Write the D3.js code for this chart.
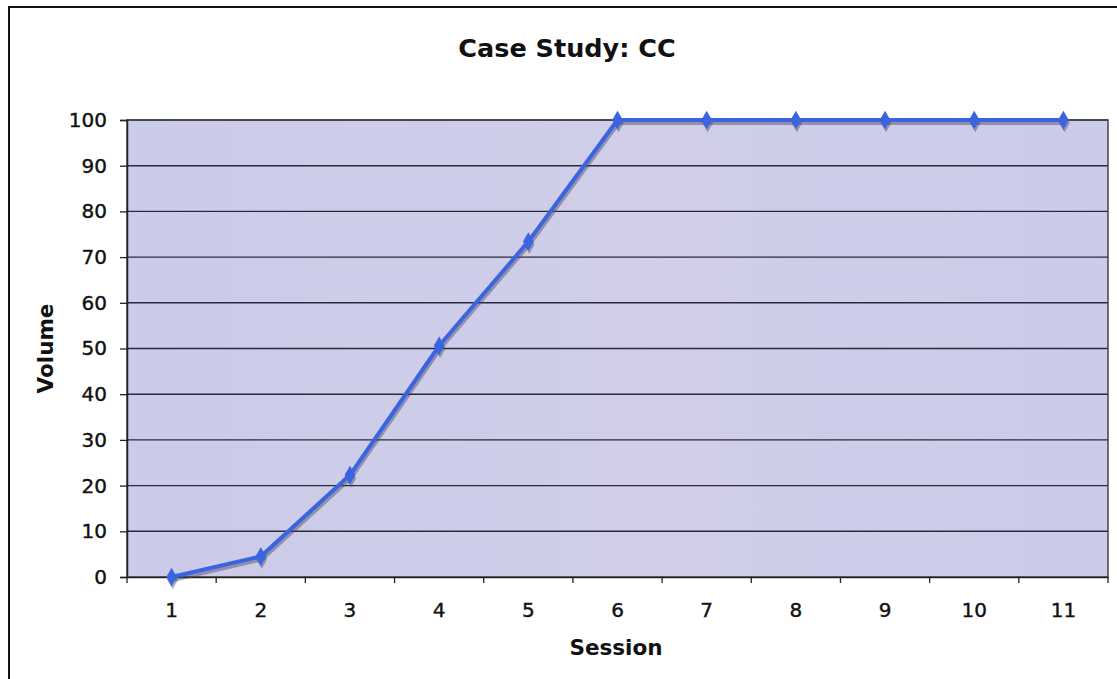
<!DOCTYPE html>
<html>
<head>
<meta charset="utf-8">
<script src="https://cdn.jsdelivr.net/npm/d3@7"></script>
<style>
html,body{margin:0;padding:0;background:#fff;}
svg{display:block;}
</style>
</head>
<body>
<svg id="chart" width="1117" height="679"></svg>
<script>
const sessions = ["1","2","3","4","5","6","7","8","9","10","11"];
const volume = [0, 4.5, 22.3, 50.6, 73.4, 100, 100, 100, 100, 100, 100];
const yTicks = [0,10,20,30,40,50,60,70,80,90,100];
const titleText = "Case Study: CC";
const xTitle = "Session";
const yTitle = "Volume";

const svg = d3.select("#chart");
const W = 1117, H = 679;
const m = {left:127, right:1108, top:120, bottom:577};
const font = "'DejaVu Sans', Verdana, sans-serif";

// outer frame (extends beyond picture on right/bottom)
svg.append("rect").attr("x",9).attr("y",7).attr("width",W+20).attr("height",H+20)
  .attr("fill","#fff").attr("stroke","#111").attr("stroke-width",2);

const x = d3.scaleBand().domain(sessions).range([m.left,m.right]).padding(0);
const y = d3.scaleLinear().domain([0,100]).range([m.bottom,m.top]);

const defs = svg.append("defs");
const grad = defs.append("linearGradient").attr("id","bg").attr("x1","0").attr("x2","1").attr("y1","0").attr("y2","0");
grad.append("stop").attr("offset","0%").attr("stop-color","#cbcbea");
grad.append("stop").attr("offset","55%").attr("stop-color","#d0cee8");
grad.append("stop").attr("offset","100%").attr("stop-color","#cbcbea");

svg.append("rect").attr("x",m.left).attr("y",m.top)
  .attr("width",m.right-m.left).attr("height",m.bottom-m.top)
  .attr("fill","url(#bg)");

// gridlines
svg.append("g").selectAll("line").data(yTicks.filter(d=>d>0)).join("line")
  .attr("x1",m.left).attr("x2",m.right)
  .attr("y1",d=>y(d)).attr("y2",d=>y(d))
  .attr("stroke","#2a2a3a").attr("stroke-width",1.4);

// plot border
svg.append("rect").attr("x",m.left).attr("y",m.top)
  .attr("width",m.right-m.left).attr("height",m.bottom-m.top)
  .attr("fill","none").attr("stroke","#444").attr("stroke-width",1.5);

// y axis
const yAxis = d3.axisLeft(y).tickValues(yTicks).tickSize(7).tickPadding(13);
const gy = svg.append("g").attr("transform",`translate(${m.left},0)`).call(yAxis);
gy.select(".domain").attr("stroke","#222").attr("stroke-width",1.5);
gy.selectAll(".tick line").attr("stroke","#222").attr("stroke-width",1.3);
gy.selectAll(".tick text").attr("font-family",font).attr("font-size",20).attr("fill","#111")
  .attr("stroke","#111").attr("stroke-width",0.4);

// x axis: ticks at category boundaries
const xAxis = d3.axisBottom(x).tickSize(0).tickPadding(26);
const gx = svg.append("g").attr("transform",`translate(0,${m.bottom})`).call(xAxis);
gx.select(".domain").attr("stroke","#222").attr("stroke-width",1.5);
gx.selectAll(".tick text").attr("font-family",font).attr("font-size",20).attr("fill","#111")
  .attr("stroke","#111").attr("stroke-width",0.4);
const bounds = sessions.map(s=>x(s)).concat([x(sessions[sessions.length-1])+x.bandwidth()]);
svg.append("g").selectAll("line").data(bounds).join("line")
  .attr("x1",d=>d).attr("x2",d=>d).attr("y1",m.bottom).attr("y2",m.bottom+6)
  .attr("stroke","#222").attr("stroke-width",1.3);

// series
const cx = d => x(d) + x.bandwidth()/2;
const pts = sessions.map((s,i)=>[cx(s), y(volume[i])]);
const line = d3.line();
// shadow
svg.append("path").attr("d",line(pts)).attr("transform","translate(1,3)")
  .attr("fill","none").attr("stroke","rgba(70,70,100,0.45)").attr("stroke-width",4)
  .attr("stroke-linejoin","round");
const sym = d3.symbol().type(d3.symbolDiamond).size(100);
svg.append("g").selectAll("path").data(pts).join("path")
  .attr("d",sym).attr("transform",d=>`translate(${d[0]+1},${d[1]+3})`)
  .attr("fill","rgba(70,70,100,0.45)");
svg.append("path").attr("d",line(pts))
  .attr("fill","none").attr("stroke","#3a64e0").attr("stroke-width",4)
  .attr("stroke-linejoin","round");
svg.append("g").selectAll("path").data(pts).join("path")
  .attr("d",sym).attr("transform",d=>`translate(${d[0]},${d[1]})`)
  .attr("fill","#3a64e0");

// titles
svg.append("text").attr("x",567).attr("y",57).attr("text-anchor","middle")
  .attr("font-family",font).attr("font-weight","bold").attr("font-size",25.5)
  .attr("fill","#111").text(titleText);
svg.append("text").attr("x",616).attr("y",655).attr("text-anchor","middle")
  .attr("font-family",font).attr("font-weight","bold").attr("font-size",21.5)
  .attr("fill","#111").text(xTitle);
svg.append("text").attr("transform",`translate(53,${(m.top+m.bottom)/2}) rotate(-90)`)
  .attr("text-anchor","middle")
  .attr("font-family",font).attr("font-weight","bold").attr("font-size",21.5)
  .attr("fill","#111").text(yTitle);
</script>
</body>
</html>
